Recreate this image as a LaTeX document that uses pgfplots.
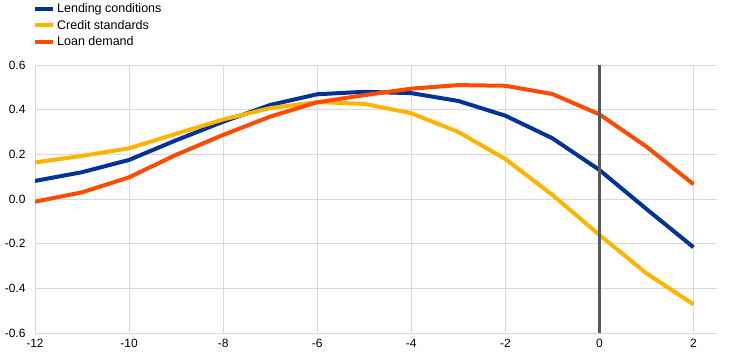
\documentclass[border=0pt]{standalone}
\usepackage{pgfplots}
\pgfplotsset{compat=1.18}
\usepackage{fontspec}
\setmainfont{Liberation Sans}
\definecolor{ecbblue}{HTML}{003299}
\definecolor{ecbyellow}{HTML}{FFB400}
\definecolor{ecborange}{HTML}{FF4B00}
\definecolor{gridgray}{HTML}{D9D9D9}
\definecolor{vgray}{HTML}{595959}
\begin{document}
\begin{tikzpicture}[x=1bp,y=1bp]
\begin{axis}[
  at={(0,0)}, anchor=south west,
  scale only axis, width=682bp, height=268bp,
  xmin=-12, xmax=2.5, ymin=-0.6, ymax=0.6,
  xtick={-12,-10,-8,-6,-4,-2,0,2},
  xticklabels={-12,-10,-8,-6,-4,-2,0,2},
  ytick={-0.6,-0.4,-0.2,0,0.2,0.4,0.6},
  yticklabels={-0.6,-0.4,-0.2,0.0,0.2,0.4,0.6},
  axis line style={draw=none},
  major tick length=0pt,
  grid=major, grid style={gridgray, line width=1bp},
  tick label style={font=\fontsize{12bp}{14bp}\selectfont},
  yticklabel style={xshift=-6bp},
  xticklabel style={yshift=-3bp},
  legend style={draw=none, fill=none, at={(0,1)}, anchor=south west, xshift=-2bp, yshift=15.5bp,
    font=\fontsize{12.5bp}{14bp}\selectfont, row sep=2bp, inner sep=0pt, cells={anchor=west}},
  legend image code/.code={\draw[#1, line width=4bp] (0bp,0bp) -- (13bp,0bp); \path (0bp,0bp) -- (18bp,0bp);},
  legend cell align=left,
]
\addplot[ecbblue, line width=4bp] coordinates {
(-12,0.081) (-11,0.120) (-10,0.175) (-9,0.263) (-8,0.346) (-7,0.421) (-6,0.469) (-5,0.480) (-4,0.474) (-3,0.439) (-2,0.373) (-1,0.272) (0,0.130) (1,-0.045) (2,-0.216)};
\addlegendentry{Lending conditions}
\addplot[ecbyellow, line width=4bp] coordinates {
(-12,0.164) (-11,0.193) (-10,0.227) (-9,0.292) (-8,0.356) (-7,0.407) (-6,0.434) (-5,0.426) (-4,0.384) (-3,0.300) (-2,0.179) (-1,0.018) (0,-0.161) (1,-0.333) (2,-0.472)};
\addlegendentry{Credit standards}
\addplot[ecborange, line width=4bp] coordinates {
(-12,-0.012) (-11,0.030) (-10,0.097) (-9,0.198) (-8,0.287) (-7,0.369) (-6,0.433) (-5,0.465) (-4,0.494) (-3,0.510) (-2,0.507) (-1,0.470) (0,0.379) (1,0.234) (2,0.066)};
\addlegendentry{Loan demand}
\draw[vgray, line width=2.5bp] (axis cs:0,-0.6) -- (axis cs:0,0.6);
\end{axis}
\useasboundingbox (-35,-26) rectangle (707,333);
\end{tikzpicture}
\end{document}
